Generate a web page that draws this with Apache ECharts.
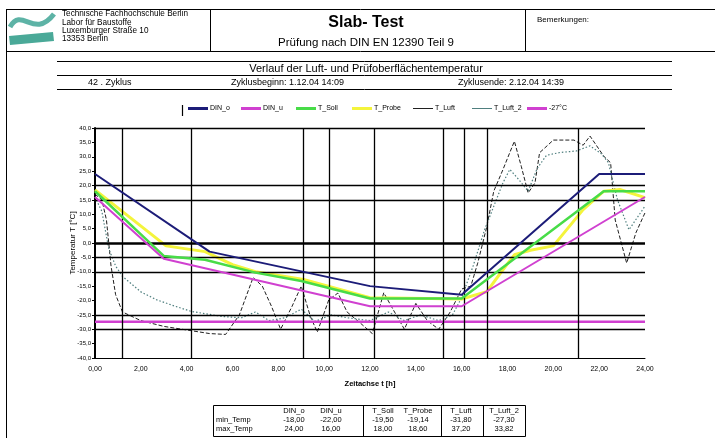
<!DOCTYPE html>
<html><head><meta charset="utf-8">
<script src="https://cdn.jsdelivr.net/npm/echarts@6/dist/echarts.min.js"></script>
<style>html,body{margin:0;padding:0;background:#fff}#c{width:715px;height:438px}</style>
</head><body><div id="c"></div>
<script>
// ---- data ----
const seriesNames = ['DIN_o','DIN_u','T_Soll','T_Probe','T_Luft','T_Luft_2','-27°C'];
const dinO = [[0,24],[5,-3],[12,-15],[16,-18],[22,24],[24,24]];
const dinU = [[0,16],[3,-5.5],[12,-22],[16,-22],[24,16]];
const tSoll = [[0,18],[3,-4.5],[4.8,-5.8],[7,-10.3],[9,-13.2],[12,-19.3],[16,-19.3],[22.2,18],[24,18]];
const tProbe = [[0,18.5],[3.1,-1],[4.8,-3],[6,-7.5],[7,-10],[9.1,-12.7],[12,-19],[16,-19.5],[17.1,-16.9],[17.8,-9.3],[18.3,-4.1],[19,-2.5],[20,-1],[21.3,11.6],[22.2,18],[22.9,18.6],[24,15.8]];
const tLuft = [[0,17],[0.3,15],[0.5,8],[0.7,-8],[0.9,-18],[1.2,-24],[2,-27],[3,-29],[4.2,-30.5],[5,-31.5],[5.7,-31.8],[6.3,-25],[6.9,-12],[7.3,-15],[7.7,-22],[8.1,-30],[8.6,-22],[9,-15],[9.4,-25.6],[9.7,-31],[10.2,-19.8],[10.6,-17.4],[11,-24],[11.6,-28],[12.1,-31.5],[12.6,-17.3],[13,-23],[13.5,-30],[14,-21],[14.5,-27],[15,-30],[15.5,-24],[16,-16],[16.4,-15],[16.7,-7],[17.1,5.8],[17.4,18],[17.8,25.5],[18.3,35.4],[18.6,26.7],[18.9,17.4],[19.2,20.9],[19.4,31.4],[20,35.8],[20.9,35.8],[21.3,34],[21.6,37.2],[22.2,30.2],[22.5,27.9],[22.7,8],[23.2,-7],[23.6,3.5],[24,10.5]];
const tLuft2 = [[0,16],[0.3,11],[0.6,-2],[0.9,-8],[1.2,-11.6],[2,-17],[2.7,-19.8],[3.5,-22],[4.2,-23.8],[5.6,-25.6],[6.4,-26],[7,-24],[7.6,-27],[8.3,-26],[9,-23],[9.6,-27.3],[10.3,-25],[11,-26],[12,-27],[12.8,-24],[13.5,-27],[14.2,-25],[15,-27],[15.6,-25],[16,-19],[16.5,-8],[17,4.6],[17.8,20.9],[18.1,25.6],[18.5,22],[18.9,18],[19.3,26],[19.7,30.5],[20.3,31.5],[21,32],[21.6,33.8],[22.1,31],[22.4,28],[22.8,15],[23.3,4.6],[24,12.8]];
const limitLine = [[0,-27.4],[24,-27.4]];
const vLines = [1.2,4.2,9.1,10.2,12.2,15.2,16.1,17.1,21.1];
const hLines = [40,20,15,-5,-10,-25,-30];
const tableCols = ['DIN_o','DIN_u','T_Soll','T_Probe','T_Luft','T_Luft_2'];
const minTemp = ['-18,00','-22,00','-19,50','-19,14','-31,80','-27,30'];
const maxTemp = ['24,00','16,00','18,00','18,60','37,20','33,82'];
const headerLines = ['Technische Fachhochschule Berlin','Labor für Baustoffe','Luxemburger Straße 10','13353 Berlin'];

// ---- styles ----
const FF = 'Liberation Sans, Arial, sans-serif';
const colors = ['#1c1c78','#d040d0','#48dc48','#f4f43c','#202020','#4f7f7f','#d040d0'];
const widths = [2,2,2.5,3,1,1.2,2.5];
const types = ['solid','solid','solid','solid',[4,2],[1.5,2],'solid'];
const legendX = [188,241,296,352,413,472,527];
const datas = [dinO,dinU,tSoll,tProbe,tLuft,tLuft2,limitLine];

const chart = echarts.init(document.getElementById('c'), null, {renderer:'canvas'});

const series = [{
  type:'line', data:[], silent:true, z:1,
  markLine:{symbol:'none', silent:true, animation:false, label:{show:false},
    lineStyle:{color:'#000', width:1.3, type:'solid'},
    data: vLines.map(v=>({xAxis:v})).concat(hLines.map(v=>({yAxis:v}))).concat([{yAxis:0, lineStyle:{width:2.6,color:'#000',type:'solid'}}])
  }
}];
seriesNames.forEach((n,i)=>{
  series.push({name:n, type:'line', data:datas[i], showSymbol:false, symbol:'none', z:3+ (i<4? 4-i:0),
    lineStyle:{color:colors[i], width:widths[i], type:types[i]}, itemStyle:{color:colors[i]}});
});

const legends = seriesNames.map((n,i)=>({
  data:[n], left:legendX[i], top:105, icon:'rect', itemWidth:20, itemHeight:(i===4||i===5)?1:3,
  itemGap:2, textStyle:{fontSize:7, fontFamily:FF, color:'#000', padding:[0,0,0,-3]}, padding:0, selectedMode:false
}));

const g = [];
// page frame / header
g.push({type:'line', shape:{x1:6.5,y1:9,x2:6.5,y2:438}, style:{stroke:'#000',lineWidth:1}});
g.push({type:'line', shape:{x1:6,y1:9.5,x2:715,y2:9.5}, style:{stroke:'#000',lineWidth:1}});
g.push({type:'line', shape:{x1:6,y1:51.5,x2:715,y2:51.5}, style:{stroke:'#000',lineWidth:1}});
g.push({type:'line', shape:{x1:210.5,y1:9,x2:210.5,y2:52}, style:{stroke:'#000',lineWidth:1}});
g.push({type:'line', shape:{x1:525.5,y1:9,x2:525.5,y2:52}, style:{stroke:'#000',lineWidth:1}});
// logo
g.push({type:'bezierCurve', shape:{x1:10,y1:27,cpx1:22,cpy1:6,cpx2:34,cpy2:40,x2:54,y2:14}, style:{stroke:'#5db3a6',lineWidth:5,fill:null}});
g.push({type:'polygon', shape:{points:[[9,36],[53,32],[54,41],[10,45]]}, style:{fill:'#4aa998'}});
headerLines.forEach((t,i)=>g.push({type:'text', x:62, y:14+i*8.3, style:{text:t, font:'8.2px '+FF, fill:'#000', textVerticalAlign:'middle'}}));
g.push({type:'text', x:366, y:23, style:{text:'Slab- Test', font:'bold 16px '+FF, fill:'#000', textAlign:'center', textVerticalAlign:'middle'}});
g.push({type:'text', x:366, y:43, style:{text:'Prüfung nach DIN EN 12390 Teil 9', font:'11.5px '+FF, fill:'#000', textAlign:'center', textVerticalAlign:'middle'}});
g.push({type:'text', x:537, y:20, style:{text:'Bemerkungen:', font:'8px '+FF, fill:'#000', textVerticalAlign:'middle'}});
// chart title block
[61.5,75.5,89.5].forEach(y=>g.push({type:'line', shape:{x1:57,y1:y,x2:672,y2:y}, style:{stroke:'#000',lineWidth:1}}));
g.push({type:'text', x:366, y:68.5, style:{text:'Verlauf der Luft- und Prüfoberflächentemperatur', font:'11px '+FF, fill:'#000', textAlign:'center', textVerticalAlign:'middle'}});
g.push({type:'text', x:88, y:82.5, style:{text:'42 . Zyklus', font:'9px '+FF, fill:'#000', textVerticalAlign:'middle'}});
g.push({type:'text', x:231, y:82.5, style:{text:'Zyklusbeginn: 1.12.04 14:09', font:'9px '+FF, fill:'#000', textVerticalAlign:'middle'}});
g.push({type:'text', x:458, y:82.5, style:{text:'Zyklusende: 2.12.04 14:39', font:'9px '+FF, fill:'#000', textVerticalAlign:'middle'}});
// legend bar
g.push({type:'line', shape:{x1:182.5,y1:105,x2:182.5,y2:116}, style:{stroke:'#000',lineWidth:1.2}});
// table
const tX0=213, tX1=525, tY0=405, tY1=436;
g.push({type:'rect', shape:{x:tX0+0.5,y:tY0+0.5,width:tX1-tX0,height:tY1-tY0}, style:{stroke:'#000',fill:null,lineWidth:1}});
[363,441,483].forEach(x=>g.push({type:'line', shape:{x1:x+0.5,y1:tY0,x2:x+0.5,y2:tY1}, style:{stroke:'#000',lineWidth:1}}));
const colC = [294,331,383,418,461,504];
const rowY = [411,420,429];
tableCols.forEach((c,i)=>{
  g.push({type:'text', x:colC[i], y:rowY[0], style:{text:c, font:'7.5px '+FF, fill:'#000', textAlign:'center', textVerticalAlign:'middle'}});
  g.push({type:'text', x:colC[i], y:rowY[1], style:{text:minTemp[i], font:'7.5px '+FF, fill:'#000', textAlign:'center', textVerticalAlign:'middle'}});
  g.push({type:'text', x:colC[i], y:rowY[2], style:{text:maxTemp[i], font:'7.5px '+FF, fill:'#000', textAlign:'center', textVerticalAlign:'middle'}});
});
g.push({type:'text', x:216, y:rowY[1], style:{text:'min_Temp', font:'7.5px '+FF, fill:'#000', textVerticalAlign:'middle'}});
g.push({type:'text', x:216, y:rowY[2], style:{text:'max_Temp', font:'7.5px '+FF, fill:'#000', textVerticalAlign:'middle'}});

chart.setOption({
  animation:false,
  backgroundColor:'#fff',
  textStyle:{fontFamily:FF},
  grid:{left:95, right:70, top:128, bottom:80, containLabel:false},
  legend: legends,
  xAxis:{type:'value', min:0, max:24, interval:2,
    name:'Zeitachse t [h]', nameLocation:'middle', nameGap:22,
    nameTextStyle:{fontSize:7.5, fontWeight:'bold', color:'#000', fontFamily:FF},
    axisLine:{show:true, onZero:false, lineStyle:{color:'#000', width:1}},
    axisTick:{show:false},
    axisLabel:{fontSize:7, color:'#000', margin:8, fontFamily:FF, formatter:v=>v.toFixed(2).replace('.',',')},
    splitLine:{show:false}},
  yAxis:{type:'value', min:-40, max:40, interval:5,
    name:'Temperatur T [°C]', nameLocation:'middle', nameGap:18, nameRotate:90, nameMoveOverlap:false,
    nameTextStyle:{fontSize:8, color:'#000', fontFamily:FF},
    axisLine:{show:true, lineStyle:{color:'#000', width:2}},
    axisTick:{show:true, length:3, lineStyle:{color:'#000'}},
    axisLabel:{fontSize:6, color:'#000', margin:4, fontFamily:FF, formatter:v=>v.toFixed(1).replace('.',',')},
    splitLine:{show:false}},
  graphic: g,
  series: series
});
</script></body></html>
